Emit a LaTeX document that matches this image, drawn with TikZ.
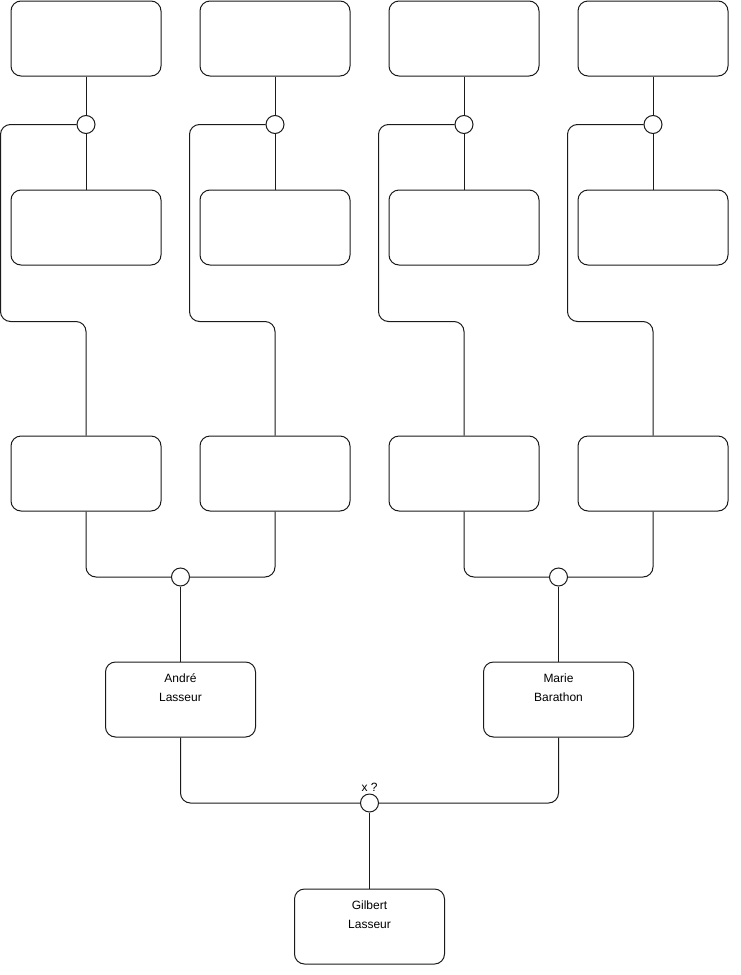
\documentclass[tikz,border=0pt]{standalone}
\usepackage{fontspec}
\setmainfont{Liberation Sans}
\usepackage{tikz}
\usetikzlibrary{positioning,calc}
\definecolor{LineGrey}{HTML}{1A1A1A}
\tikzset{
  % Person box
  box/.style={rectangle,rounded corners=7.5pt,
              minimum width=112.5pt,minimum height=56.25pt,
              inner sep=0pt,draw=LineGrey,line width=0.75pt,fill=white,
              align=center,font=\fontsize{9}{14.25}\selectfont},
  % Union circle
  junction/.style={circle,draw=LineGrey,line width=0.75pt,fill=white,
                   minimum size=13.5pt,inner sep=0pt},
  % Connector
  wire/.style={draw=LineGrey,line width=0.75pt,rounded corners=7.5pt}
}
\begin{document}
\begin{tikzpicture}[x=0.75pt,y=-0.75pt]
  \useasboundingbox (0,0) rectangle (740,975);
  % great-grandparents
  \node[box] (ggf1) at (86,38.5) {};
  \node[box,right=28.5pt of ggf1] (ggf2) {};
  \node[box,right=28.5pt of ggf2] (ggf3) {};
  \node[box,right=28.5pt of ggf3] (ggf4) {};
  \node[box,below=84.75pt of ggf1] (ggm1) {};
  \node[box,below=84.75pt of ggf2] (ggm2) {};
  \node[box,below=84.75pt of ggf3] (ggm3) {};
  \node[box,below=84.75pt of ggf4] (ggm4) {};
  % grandparents
  \node[box,below=127.5pt of ggm1] (gp1) {};
  \node[box,below=127.5pt of ggm2] (gp2) {};
  \node[box,below=127.5pt of ggm3] (gp3) {};
  \node[box,below=127.5pt of ggm4] (gp4) {};
  % parents and child
  \node[box] (andre) at (180.5,699.5) {Andr\'e\\Lasseur\\[3pt]~};
  \node[box] (marie) at (558.5,699.5) {Marie\\Barathon\\[3pt]~};
  \node[box] (gilbert) at (369.5,926.5) {Gilbert\\Lasseur\\[3pt]~};
  % unions
  \foreach \i in {1,...,4}{
    \node[junction] (u\i) at ($(ggf\i.south)+(0,48)$) {};
    \draw[wire] (ggf\i.south) -- (u\i.north);
    \draw[wire] (u\i.south) -- (ggm\i.north);
    \draw[wire] (u\i.west) -- ++(-76,0) |- ($(gp\i.north)+(0,-114)$) -- (gp\i.north);
  }
  \node[junction] (v1) at (180.5,577) {};
  \node[junction] (v2) at (558.5,577) {};
  \node[junction,label={[font=\fontsize{9}{11}\selectfont,inner sep=1pt]above:x ?}] (w) at (369.5,803) {};
  \draw[wire] (gp1.south) |- (v1.west);
  \draw[wire] (gp2.south) |- (v1.east);
  \draw[wire] (gp3.south) |- (v2.west);
  \draw[wire] (gp4.south) |- (v2.east);
  \draw[wire] (v1.south) -- (andre.north);
  \draw[wire] (v2.south) -- (marie.north);
  \draw[wire] (andre.south) |- (w.west);
  \draw[wire] (marie.south) |- (w.east);
  \draw[wire] (w.south) -- (gilbert.north);
\end{tikzpicture}
\end{document}
